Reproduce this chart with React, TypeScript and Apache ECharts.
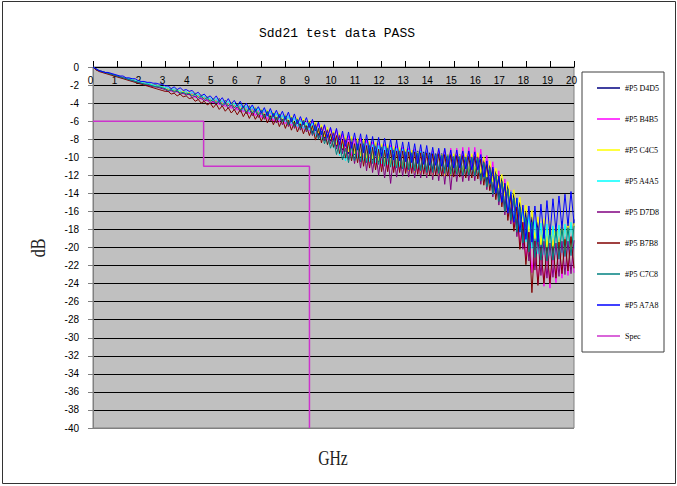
import React, { useEffect, useRef } from "react";
import * as echarts from "echarts";

// Frequency sampling grid (GHz), 0..20 step 0.125
const FREQ_STEP = 0.125;
const FREQ_COUNT = 161;

const SERIES_NAMES = [
  "#P5 D4D5",
  "#P5 B4B5",
  "#P5 C4C5",
  "#P5 A4A5",
  "#P5 D7D8",
  "#P5 B7B8",
  "#P5 C7C8",
  "#P5 A7A8",
];
const SERIES_COLORS = ["#000080", "#FF00FF", "#FFFF00", "#00FFFF", "#800080", "#800000", "#008080", "#0000FF"];

const D4D5 = [
  0, -0.3, -0.4, -0.5, -0.6, -0.7, -0.8, -0.9, -1.0,
  -1.1, -1.2, -1.3, -1.3, -1.4, -1.5, -1.6, -1.7,
  -1.8, -1.8, -1.9, -2.0, -2.0, -2.1, -2.2, -2.3,
  -2.5, -2.4, -2.6, -2.5, -2.8, -2.7, -2.9, -2.8,
  -3.1, -2.9, -3.3, -3.1, -3.5, -3.3, -3.7, -3.5,
  -3.9, -3.5, -4.1, -3.7, -4.3, -3.9, -4.5, -4.1,
  -4.7, -4.2, -4.9, -4.3, -5.0, -4.5, -5.2, -4.7,
  -5.5, -4.8, -5.7, -5.0, -5.8, -5.1, -6.0, -5.3,
  -6.3, -5.5, -6.5, -5.7, -6.7, -5.9, -6.9, -6.1,
  -7.3, -6.2, -7.6, -6.6, -7.9, -6.9, -8.2, -7.2,
  -8.8, -7.4, -9.2, -7.8,
  -9.6, -7.8, -9.7, -7.9,
  -9.9, -8.0, -10.1, -8.2, -10.3, -8.4, -10.5, -8.6,
  -10.7, -8.7, -10.8, -8.9, -10.9, -9.0, -11.0, -9.1,
  -11.2, -9.2, -11.3, -9.3, -11.4, -9.4, -11.5, -9.5,
  -11.4, -9.6, -11.5, -9.6, -11.5, -9.7, -11.5, -9.7,
  -11.5, -9.7, -11.6, -9.8, -11.6, -9.8, -11.7, -9.9,
  -12.2, -10.3, -12.8, -10.9,
  -13.7, -11.5, -14.5, -12.3,
  -15.6, -13.1, -16.5, -14.0,
  -17.8, -15.0, -18.9, -16.1,
  -19.9, -16.6, -20.5, -17.2,
  -20.9, -17.3, -21.0, -17.4,
  -20.8, -17.3, -20.6, -17.1,
  -20.3, -17.1, -20.2, -16.9,
];

const B4B5 = [
  0, -0.2, -0.4, -0.5, -0.6, -0.7, -0.8, -0.9, -1.0,
  -1.1, -1.2, -1.3, -1.4, -1.5, -1.6, -1.7, -1.8,
  -1.9, -1.9, -2.0, -2.1, -2.2, -2.2, -2.3, -2.4,
  -2.4, -2.7, -2.5, -2.8, -2.7, -3.0, -2.8, -3.1,
  -2.9, -3.4, -3.1, -3.6, -3.3, -3.8, -3.5, -4.0,
  -3.6, -4.2, -3.8, -4.4, -4.0, -4.6, -4.2, -4.8,
  -4.2, -5.0, -4.4, -5.2, -4.6, -5.4, -4.8, -5.6,
  -4.8, -5.8, -5.0, -6.0, -5.1, -6.1, -5.3, -6.3,
  -5.4, -6.5, -5.6, -6.7, -5.8, -6.9, -6.0, -7.1,
  -6.0, -7.6, -6.3, -7.8, -6.5, -8.1, -6.8, -8.3,
  -6.9, -9.0, -7.4, -9.4,
  -7.6, -9.8, -7.9, -10.0,
  -7.9, -10.4, -8.1, -10.6, -8.3, -10.8, -8.5, -11.0,
  -8.6, -11.2, -8.7, -11.4, -8.8, -11.5, -8.9, -11.6,
  -9.0, -11.7, -9.1, -11.8, -9.2, -11.8, -9.3, -11.9,
  -9.3, -11.8, -9.2, -11.8, -9.1, -11.7, -9.0, -11.6,
  -9.0, -11.6, -8.9, -11.5, -8.9, -11.5, -8.9, -11.5,
  -9.1, -12.3, -9.8, -12.9,
  -10.5, -14.0, -11.5, -15.0,
  -12.4, -16.5, -13.7, -17.7,
  -15.0, -19.7, -16.7, -21.4,
  -18.1, -22.8, -19.4, -24.0,
  -20.1, -24.3, -20.4, -24.5,
  -20.4, -23.9, -19.9, -23.4,
  -19.6, -23.1, -19.3, -22.8,
];

const C4C5 = [
  0, -0.3, -0.4, -0.5, -0.6, -0.7, -0.8, -0.9, -1.0,
  -1.1, -1.2, -1.3, -1.4, -1.4, -1.5, -1.6, -1.7,
  -1.8, -1.9, -1.9, -2.0, -2.1, -2.1, -2.2, -2.3,
  -2.5, -2.4, -2.6, -2.5, -2.8, -2.7, -2.9, -2.8,
  -3.1, -2.9, -3.3, -3.1, -3.5, -3.3, -3.7, -3.5,
  -3.9, -3.6, -4.1, -3.8, -4.2, -3.9, -4.4, -4.1,
  -4.7, -4.2, -4.9, -4.4, -5.0, -4.5, -5.2, -4.7,
  -5.4, -4.8, -5.6, -5.0, -5.7, -5.1, -5.9, -5.3,
  -6.1, -5.4, -6.3, -5.6, -6.4, -5.7, -6.6, -5.9,
  -7.0, -6.1, -7.3, -6.4, -7.7, -6.7, -8.0, -7.1,
  -8.6, -7.3, -9.0, -7.7,
  -9.4, -7.7, -9.6, -7.9,
  -9.9, -8.0, -10.1, -8.2, -10.2, -8.3, -10.4, -8.5,
  -10.7, -8.6, -10.9, -8.8, -11.0, -8.9, -11.2, -9.1,
  -11.5, -9.2, -11.7, -9.4, -11.9, -9.6, -12.1, -9.8,
  -12.2, -9.8, -12.1, -9.7, -12.1, -9.7, -12.0, -9.6,
  -11.9, -9.7, -11.8, -9.6, -11.8, -9.6, -11.7, -9.5,
  -11.8, -10.0, -12.2, -10.4,
  -12.7, -11.2, -13.4, -11.9,
  -14.3, -12.7, -15.2, -13.6,
  -16.3, -14.4, -17.2, -15.3,
  -18.3, -15.9, -19.0, -16.6,
  -19.7, -16.8, -20.0, -17.1,
  -20.1, -17.1, -20.2, -17.3,
  -20.3, -17.3, -20.3, -17.3,
];

const A4A5 = [
  0, -0.2, -0.4, -0.5, -0.6, -0.7, -0.8, -0.9, -1.0,
  -1.1, -1.2, -1.3, -1.3, -1.4, -1.5, -1.6, -1.7,
  -1.8, -1.8, -1.9, -2.0, -2.1, -2.1, -2.2, -2.3,
  -2.3, -2.6, -2.4, -2.7, -2.6, -2.9, -2.7, -3.0,
  -2.8, -3.2, -3.0, -3.4, -3.2, -3.6, -3.4, -3.8,
  -3.5, -4.0, -3.7, -4.2, -3.8, -4.3, -4.0, -4.5,
  -4.1, -4.8, -4.3, -5.0, -4.4, -5.1, -4.6, -5.3,
  -4.7, -5.5, -4.9, -5.7, -5.1, -5.9, -5.3, -6.1,
  -5.4, -6.3, -5.6, -6.6, -5.9, -6.8, -6.1, -7.0,
  -6.2, -7.7, -6.7, -8.1, -7.1, -8.6, -7.6, -9.0,
  -7.9, -9.8, -8.5, -10.4,
  -8.6, -10.4, -8.5, -10.2,
  -8.4, -10.4, -8.5, -10.5, -8.6, -10.6, -8.7, -10.7,
  -8.8, -10.8, -8.9, -11.0, -9.0, -11.1, -9.1, -11.2,
  -9.2, -11.2, -9.3, -11.3, -9.3, -11.4, -9.4, -11.5,
  -9.5, -11.6, -9.6, -11.6, -9.7, -11.7, -9.7, -11.8,
  -9.8, -11.9, -9.8, -11.9, -9.9, -12.0, -9.9, -12.0,
  -10.2, -12.7, -10.8, -13.3,
  -11.3, -14.3, -12.1, -15.1,
  -12.9, -16.1, -13.8, -17.0,
  -14.6, -18.3, -15.7, -19.4,
  -16.4, -20.1, -17.0, -20.7,
  -17.3, -20.8, -17.4, -20.9,
  -17.6, -20.8, -17.5, -20.6,
  -17.4, -20.3, -17.2, -20.1,
];

const D7D8 = [
  0, -0.3, -0.4, -0.5, -0.6, -0.7, -0.8, -0.9, -1.0,
  -1.1, -1.2, -1.3, -1.4, -1.5, -1.6, -1.7, -1.8,
  -1.9, -2.0, -2.1, -2.2, -2.2, -2.3, -2.4, -2.5,
  -2.7, -2.6, -2.8, -2.7, -3.0, -2.9, -3.1, -3.0,
  -3.4, -3.2, -3.6, -3.4, -3.8, -3.6, -4.0, -3.8,
  -4.2, -3.8, -4.4, -4.0, -4.6, -4.2, -4.8, -4.4,
  -5.0, -4.4, -5.2, -4.6, -5.4, -4.8, -5.6, -5.0,
  -5.8, -5.0, -6.0, -5.2, -6.2, -5.4, -6.4, -5.6,
  -6.6, -5.7, -6.8, -5.9, -7.0, -6.1, -7.2, -6.3,
  -7.6, -6.4, -7.9, -6.7, -8.2, -7.0, -8.5, -7.3,
  -9.1, -7.6, -9.6, -8.1,
  -10.3, -8.3, -10.7, -8.7,
  -11.2, -8.8, -11.5, -9.0, -11.7, -9.3, -12.0, -9.5,
  -12.3, -9.6, -12.9, -9.7, -12.2, -9.6, -12.1, -9.7,
  -12.2, -9.6, -12.3, -9.7, -12.3, -9.7, -12.3, -9.7,
  -12.5, -9.7, -12.6, -9.8, -13.0, -9.9, -13.6, -10.0,
  -12.7, -10.1, -12.7, -10.0, -12.6, -10.0, -12.6, -10.0,
  -13.0, -10.5, -13.6, -11.1,
  -14.4, -11.9, -15.3, -12.7,
  -16.4, -13.5, -17.4, -14.5,
  -18.8, -15.7, -20.2, -17.1,
  -21.5, -18.0, -22.5, -19.0,
  -23.1, -19.3, -23.4, -19.5,
  -23.3, -19.5, -23.2, -19.3,
  -23.0, -19.3, -22.9, -19.2,
];

const B7B8 = [
  0, -0.3, -0.5, -0.6, -0.7, -0.8, -0.9, -1.0, -1.1,
  -1.2, -1.3, -1.4, -1.5, -1.6, -1.7, -1.8, -1.9,
  -2.0, -2.1, -2.2, -2.3, -2.4, -2.5, -2.6, -2.7,
  -2.7, -3.0, -2.9, -3.2, -3.0, -3.3, -3.2, -3.5,
  -3.4, -3.8, -3.6, -4.0, -3.8, -4.2, -4.0, -4.5,
  -4.1, -4.7, -4.3, -4.9, -4.5, -5.1, -4.7, -5.3,
  -4.7, -5.5, -4.9, -5.7, -5.0, -5.8, -5.2, -6.0,
  -5.2, -6.2, -5.4, -6.4, -5.6, -6.6, -5.8, -6.8,
  -5.9, -7.0, -6.1, -7.2, -6.3, -7.4, -6.5, -7.6,
  -6.5, -8.1, -6.8, -8.4, -7.1, -8.6, -7.4, -8.9,
  -7.6, -9.6, -8.1, -10.1,
  -8.3, -10.4, -8.5, -10.6,
  -8.5, -11.0, -8.7, -11.2, -8.9, -11.4, -9.1, -11.6,
  -9.2, -11.6, -9.2, -11.7, -9.3, -11.7, -9.3, -11.8,
  -9.4, -11.8, -9.4, -11.9, -9.5, -11.9, -9.5, -12.0,
  -9.6, -12.0, -9.6, -12.1, -9.7, -12.1, -9.7, -12.2,
  -9.8, -12.2, -9.8, -12.3, -9.9, -12.3, -9.9, -12.4,
  -10.2, -13.1, -10.8, -13.7,
  -11.3, -14.7, -12.1, -15.5,
  -12.9, -17.0, -14.2, -18.2,
  -15.5, -20.2, -17.2, -21.9,
  -18.3, -25.0, -19.3, -24.2,
  -20.0, -24.0, -20.0, -24.0,
  -19.9, -23.4, -19.4, -22.9,
  -19.1, -22.6, -18.8, -22.3,
];

const C7C8 = [
  0, -0.2, -0.4, -0.5, -0.6, -0.7, -0.8, -0.9, -1.0,
  -1.1, -1.2, -1.3, -1.4, -1.5, -1.6, -1.7, -1.8,
  -1.9, -1.9, -2.0, -2.1, -2.2, -2.2, -2.3, -2.4,
  -2.6, -2.5, -2.7, -2.6, -2.9, -2.8, -3.0, -2.9,
  -3.2, -3.0, -3.4, -3.2, -3.6, -3.4, -3.8, -3.6,
  -4.0, -3.7, -4.2, -3.9, -4.3, -4.0, -4.5, -4.2,
  -4.8, -4.3, -5.0, -4.5, -5.1, -4.6, -5.3, -4.8,
  -5.6, -4.9, -5.8, -5.1, -5.9, -5.2, -6.1, -5.4,
  -6.4, -5.6, -6.6, -5.8, -6.8, -6.0, -7.0, -6.3,
  -7.5, -6.6, -8.0, -7.1, -8.5, -7.5, -9.0, -8.0,
  -9.7, -8.4, -10.3, -9.0,
  -10.6, -8.7, -10.4, -8.5,
  -10.5, -8.5, -10.6, -8.7, -10.7, -8.8, -10.8, -8.9,
  -11.0, -9.0, -11.1, -9.2, -11.2, -9.3, -11.3, -9.4,
  -11.4, -9.5, -11.5, -9.5, -11.5, -9.6, -11.7, -9.7,
  -11.7, -9.7, -11.8, -9.8, -11.8, -9.8, -11.9, -9.9,
  -11.9, -9.9, -12.0, -10.0, -12.0, -10.0, -12.1, -10.1,
  -12.6, -10.6, -13.3, -11.2,
  -14.1, -11.9, -14.9, -12.7,
  -16.0, -13.5, -17.0, -14.5,
  -18.3, -15.5, -19.5, -16.7,
  -20.5, -17.2, -21.1, -17.8,
  -21.4, -17.9, -21.5, -18.0,
  -21.4, -18.0, -21.3, -17.8,
  -21.0, -17.8, -20.9, -17.6,
];

const A7A8 = [
  0, -0.2, -0.4, -0.5, -0.6, -0.6, -0.7, -0.8, -0.9,
  -1.0, -1.0, -1.2, -1.2, -1.3, -1.3, -1.5, -1.6,
  -1.6, -1.7, -1.7, -1.8, -1.8, -1.9, -1.9, -2.1,
  -2.1, -2.4, -2.2, -2.5, -2.3, -2.6, -2.5, -2.7,
  -2.6, -3.0, -2.8, -3.2, -3.0, -3.4, -3.2, -3.6,
  -3.2, -3.8, -3.4, -4.0, -3.5, -4.1, -3.7, -4.3,
  -3.8, -4.5, -4.0, -4.7, -4.2, -4.9, -4.4, -5.1,
  -4.5, -5.4, -4.6, -5.5, -4.8, -5.6, -4.9, -5.8,
  -5.0, -6.1, -5.2, -6.3, -5.5, -6.4, -5.6, -6.7,
  -5.8, -7.1, -6.1, -7.5, -6.4, -7.8, -6.7, -8.1,
  -6.8, -8.6, -7.1, -8.8,
  -7.2, -9.0, -7.3, -9.2,
  -7.4, -9.5, -7.5, -9.6, -7.7, -9.8, -7.8, -9.9,
  -7.9, -10.1, -8.0, -10.3, -8.1, -10.4, -8.3, -10.5,
  -8.3, -10.6, -8.5, -10.7, -8.6, -10.8, -8.7, -10.9,
  -8.9, -10.9, -9.0, -11.0, -9.0, -11.1, -9.2, -11.2,
  -9.2, -11.2, -9.3, -11.3, -9.3, -11.4, -9.4, -11.4,
  -9.7, -12.2, -10.4, -12.9,
  -11.1, -14.0, -12.1, -15.0,
  -12.9, -16.2, -13.9, -17.2,
  -14.5, -18.3, -15.3, -19.1,
  -15.4, -19.4, -15.4, -19.4,
  -15.2, -19.0, -14.8, -18.6,
  -14.6, -18.2, -14.3, -17.9,
  -14.1, -17.6, -13.8, -17.3,
];

const SERIES_VALUES = [D4D5, B4B5, C4C5, A4A5, D7D8, B7B8, C7C8, A7A8];

// Spec limit line
const SPEC_NAME = "Spec";
const SPEC_X = [0, 4.6, 4.6, 9, 9];
const SPEC_Y = [-6, -6, -11, -11, -40];

const TITLE = "Sdd21 test data PASS";
const X_NAME = "GHz";
const Y_NAME = "dB";

export default function App() {
  const ref = useRef<HTMLDivElement>(null);

  useEffect(() => {
    document.body.style.margin = "0";
    if (!ref.current) return;
    const chart = echarts.init(ref.current, undefined, { renderer: "svg" });

    const freqs: number[] = [];
    for (let i = 0; i < FREQ_COUNT; i++) freqs.push(i * FREQ_STEP);

    const dataSeries: any[] = SERIES_VALUES.map((vals, k) => ({
      name: SERIES_NAMES[k],
      type: "line",
      symbol: "none",
      showSymbol: false,
      color: SERIES_COLORS[k],
      lineStyle: { width: 1, color: SERIES_COLORS[k] },
      data: vals.map((v, i) => [freqs[i], v]).filter((p) => p[0] !== undefined),
      z: 2,
    }));

    dataSeries.push({
      name: SPEC_NAME,
      type: "line",
      symbol: "none",
      showSymbol: false,
      color: "#CC33CC",
      lineStyle: { width: 1.5, color: "#CC33CC" },
      data: SPEC_X.map((x, i) => [x, SPEC_Y[i]]),
      z: 3,
    });

    const splitColors: string[] = [];
    for (let i = 0; i <= 20; i++) splitColors.push(i === 0 ? "#808080" : "#000000");

    chart.setOption({
      animation: false,
      backgroundColor: "#ffffff",
      title: {
        text: TITLE,
        left: 332,
        top: 22,
        textAlign: "center",
        textStyle: { fontFamily: "Liberation Mono", fontSize: 13, fontWeight: "normal", color: "#000" },
      },
      legend: {
        orient: "vertical",
        left: 582,
        top: 72,
        padding: [9, 5, 9, 15],
        icon: "rect",
        itemWidth: 23,
        itemHeight: 1.5,
        itemGap: 17,
        backgroundColor: "#ffffff",
        borderColor: "#404040",
        borderWidth: 1,
        borderRadius: 0,
        textStyle: { fontFamily: "Liberation Serif", fontSize: 8, lineHeight: 14, color: "#000" },
        data: [...SERIES_NAMES, SPEC_NAME],
      },
      grid: {
        left: 93,
        top: 67,
        right: 103,
        bottom: 58,
        show: true,
        backgroundColor: "#C0C0C0",
        borderColor: "#808080",
        borderWidth: 1,
      },
      xAxis: {
        type: "value",
        position: "top",
        min: 0,
        max: 20,
        interval: 1,
        axisLine: { show: true, onZero: false, lineStyle: { color: "#000", width: 1 } },
        axisTick: { show: true, inside: false, length: 6, lineStyle: { color: "#000" } },
        axisLabel: {
          inside: true,
          margin: 8,
          fontFamily: "Liberation Sans",
          fontSize: 10,
          color: "#000",
          padding: [0, 5, 0, 0],
        },
        splitLine: { show: false },
      },
      yAxis: {
        type: "value",
        min: -40,
        max: 0,
        interval: 2,
        axisLine: { show: true, onZero: false, lineStyle: { color: "#808080", width: 1 } },
        axisTick: { show: true, inside: false, length: 5, lineStyle: { color: "#808080" } },
        axisLabel: {
          margin: 14,
          fontFamily: "Liberation Sans",
          fontSize: 10,
          color: "#000",
        },
        splitLine: { show: true, lineStyle: { color: splitColors, width: 1 } },
      },
      graphic: [
        {
          type: "rect",
          silent: true,
          shape: { x: 2.5, y: 1.5, width: 673, height: 482 },
          style: { fill: "none", stroke: "#333333", lineWidth: 1 },
          z: -1,
        },
        {
          type: "text",
          x: 333,
          y: 458,
          scaleX: 0.75,
          style: {
            text: X_NAME,
            fontFamily: "Liberation Serif",
            fontSize: 21,
            fill: "#222",
            textAlign: "center",
            textVerticalAlign: "middle",
          },
        },
        {
          type: "text",
          x: 38,
          y: 248,
          rotation: Math.PI / 2,
          scaleX: 0.8,
          style: {
            text: Y_NAME,
            fontFamily: "Liberation Serif",
            fontSize: 20,
            fill: "#222",
            textAlign: "center",
            textVerticalAlign: "middle",
          },
        },
      ],
      series: dataSeries,
    });

    return () => {
      chart.dispose();
    };
  }, []);

  return <div ref={ref} style={{ width: 677, height: 486, background: "#fff" }} />;
}
